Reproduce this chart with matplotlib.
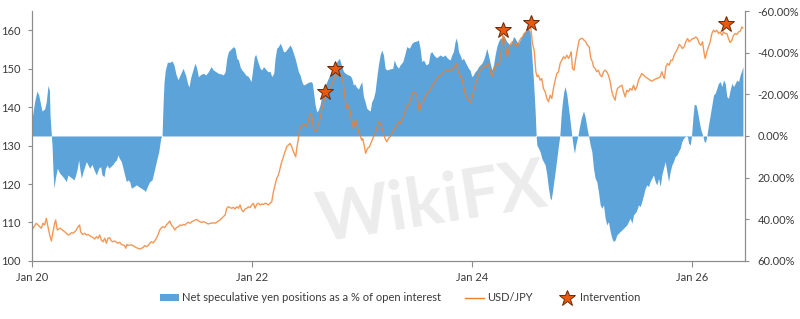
import matplotlib
matplotlib.use("Agg")
import matplotlib.pyplot as plt
import numpy as np
from matplotlib.lines import Line2D
from matplotlib.patches import Patch
from matplotlib.ticker import FuncFormatter

plt.rcParams["font.family"] = ["Lato", "DejaVu Sans"]

# net speculative yen positions, % of open interest (years since Jan 2020)
cot_years = [
    0.000, 0.024, 0.045, 0.061, 0.079, 0.091, 0.115, 0.130, 0.145, 0.158,
    0.164, 0.176, 0.182, 0.191, 0.200, 0.212, 0.230, 0.252, 0.267, 0.291,
    0.312, 0.327, 0.342, 0.364, 0.382, 0.397, 0.412, 0.424, 0.436, 0.448,
    0.464, 0.479, 0.494, 0.509, 0.524, 0.545, 0.564, 0.585, 0.606, 0.624,
    0.636, 0.655, 0.667, 0.685, 0.697, 0.715, 0.736, 0.752, 0.767, 0.782,
    0.794, 0.812, 0.827, 0.842, 0.858, 0.873, 0.888, 0.903, 0.927, 0.948,
    0.970, 0.994, 1.018, 1.030, 1.048, 1.070, 1.091, 1.109, 1.130, 1.152,
    1.170, 1.182, 1.191, 1.200, 1.212, 1.230, 1.252, 1.273, 1.291, 1.309,
    1.327, 1.352, 1.373, 1.397, 1.415, 1.427, 1.442, 1.467, 1.482, 1.497,
    1.512, 1.536, 1.558, 1.579, 1.603, 1.627, 1.648, 1.670, 1.694, 1.718,
    1.739, 1.755, 1.770, 1.785, 1.800, 1.815, 1.830, 1.845, 1.861, 1.876,
    1.891, 1.906, 1.921, 1.942, 1.967, 1.991, 2.003, 2.021, 2.033, 2.052,
    2.073, 2.088, 2.103, 2.118, 2.142, 2.164, 2.179, 2.197, 2.209, 2.224,
    2.239, 2.255, 2.270, 2.285, 2.300, 2.324, 2.345, 2.361, 2.376, 2.391,
    2.406, 2.421, 2.436, 2.452, 2.467, 2.482, 2.497, 2.512, 2.536, 2.548,
    2.558, 2.573, 2.588, 2.603, 2.618, 2.633, 2.655, 2.679, 2.703, 2.724,
    2.745, 2.770, 2.794, 2.806, 2.818, 2.830, 2.848, 2.873, 2.891, 2.906,
    2.921, 2.933, 2.945, 2.967, 2.982, 2.997, 3.012, 3.027, 3.042, 3.058,
    3.073, 3.088, 3.103, 3.118, 3.133, 3.148, 3.164, 3.179, 3.194, 3.209,
    3.224, 3.255, 3.279, 3.291, 3.309, 3.330, 3.345, 3.370, 3.391, 3.406,
    3.430, 3.452, 3.473, 3.497, 3.512, 3.527, 3.542, 3.558, 3.582, 3.603,
    3.618, 3.633, 3.648, 3.664, 3.679, 3.709, 3.733, 3.755, 3.776, 3.800,
    3.815, 3.830, 3.845, 3.855, 3.867, 3.876, 3.891, 3.906, 3.921, 3.936,
    3.952, 3.967, 3.982, 3.997, 4.012, 4.027, 4.042, 4.058, 4.073, 4.088,
    4.103, 4.118, 4.133, 4.148, 4.164, 4.179, 4.194, 4.209, 4.224, 4.239,
    4.255, 4.270, 4.285, 4.300, 4.315, 4.330, 4.345, 4.361, 4.376, 4.391,
    4.406, 4.421, 4.436, 4.452, 4.467, 4.482, 4.497, 4.512, 4.527, 4.542,
    4.558, 4.573, 4.582, 4.588, 4.603, 4.618, 4.633, 4.648, 4.664, 4.679,
    4.694, 4.709, 4.718, 4.730, 4.742, 4.755, 4.770, 4.785, 4.797, 4.809,
    4.821, 4.833, 4.845, 4.861, 4.876, 4.891, 4.906, 4.921, 4.930, 4.942,
    4.952, 4.961, 4.973, 4.991, 5.012, 5.027, 5.042, 5.058, 5.073, 5.088,
    5.103, 5.118, 5.133, 5.148, 5.164, 5.179, 5.194, 5.209, 5.224, 5.239,
    5.255, 5.270, 5.285, 5.300, 5.315, 5.345, 5.376, 5.406, 5.436, 5.452,
    5.467, 5.491, 5.512, 5.527, 5.542, 5.558, 5.573, 5.588, 5.603, 5.618,
    5.633, 5.648, 5.664, 5.679, 5.694, 5.709, 5.724, 5.739, 5.755, 5.770,
    5.785, 5.800, 5.815, 5.830, 5.845, 5.861, 5.876, 5.891, 5.906, 5.921,
    5.936, 5.945, 5.958, 5.967, 5.982, 5.994, 6.006, 6.018, 6.036, 6.048,
    6.064, 6.079, 6.097, 6.109, 6.121, 6.133, 6.148, 6.164, 6.179, 6.194,
    6.209, 6.224, 6.239, 6.255, 6.270, 6.285, 6.300, 6.315, 6.330, 6.345,
    6.361, 6.376, 6.391, 6.406, 6.421, 6.436, 6.452, 6.461,
]
cot_pct = [
    -8, -16.5, -21.6, -19.7, -15, -12, -13, -16.5, -24.2, -22,
    -10, 0, 4.3, 17.1, 25.1, 20.3, 15.5, 17.9, 18.7, 20.3,
    21.9, 18.7, 19.5, 20.3, 21.1, 18.7, 15.5, 11.5, 16.3, 20.3,
    17.1, 14.7, 12.3, 13.9, 15.5, 13.6, 16.3, 18.7, 15.5, 14.7,
    18.7, 19.5, 15.5, 13.9, 15.5, 14.7, 13.6, 12.3, 11.5, 9.1,
    10.7, 12.3, 15.5, 18.7, 21.9, 21.1, 21.9, 25.1, 24.3, 23.5,
    24.3, 25.1, 25.9, 26.7, 24.3, 21.9, 21.1, 17.1, 12.3, 7.5,
    1, 0, -14.9, -26, -31.7, -35.4, -35.4, -36, -34, -29.5,
    -27, -30, -32.5, -29, -25, -23.5, -28, -32.5, -35, -32.5,
    -28.5, -29.6, -30.1, -29.3, -30.9, -33.3, -31.7, -30.9, -30.1, -29.8,
    -29.3, -30.9, -37.3, -40.5, -41.3, -42.1, -42.9, -42.1, -37.3, -36.5,
    -33.3, -31.7, -30.9, -29.3, -28.5, -26.1, -30.9, -38.1, -39.2, -35.7,
    -32.5, -31.7, -33.3, -32.5, -30.9, -30.9, -28.5, -30.1, -37.3, -42.1,
    -42.9, -44.5, -42.9, -40.5, -40.5, -42.1, -43.7, -42.1, -39.7, -37.3,
    -34.1, -30.9, -29.3, -26.1, -24.5, -24.8, -25.3, -25.8, -26.1, -25.3,
    -21.3, -15, -11.5, -12.5, -15, -19, -23, -26, -29, -31,
    -33, -35.7, -37.3, -35, -33.3, -31, -30.1, -29.3, -29, -27.7,
    -24.5, -25, -23.7, -22.5, -24.5, -26.1, -19, -16.5, -13.3, -12.5,
    -12, -16.5, -18.1, -21.3, -28, -34.1, -38.9, -41.3, -38.9, -32.5,
    -31.7, -32.2, -32.5, -36.5, -34.1, -32.5, -34.1, -35.7, -39.7, -42.9,
    -42.1, -44.5, -45.3, -45.6, -46.1, -42.1, -35.7, -36.5, -34.1, -34.9,
    -39.7, -40.5, -39.2, -38.1, -37.6, -38.9, -38.1, -38.9, -37.3, -36.5,
    -38.9, -40.5, -45.3, -47, -44.5, -40.5, -38.9, -36.5, -37.3, -35.7,
    -34, -32.5, -31.5, -28.5, -29.3, -30.9, -31.7, -33.3, -34.1, -34.9,
    -36.5, -38.9, -42.1, -38.9, -34.9, -31.7, -34.1, -38.9, -42.9, -45.3,
    -46.9, -46.9, -48.5, -46.9, -45.3, -44.5, -43.7, -45.3, -47.7, -46.9,
    -45.3, -44.5, -46.1, -47.7, -49.3, -50.1, -51.4, -51.7, -50.1, -38.9,
    -26.1, -11.7, 0, 4.3, 5.9, 7.5, 10.7, 12.3, 13.9, 18.7,
    25.1, 29.9, 30.7, 26.7, 21.9, 17.1, 10.7, 4.3, 0, -10.1,
    -16.5, -21.3, -23.7, -19.7, -13.3, -6.9, 0, 5.9, 8.3, 4.3,
    1.9, 0, -3.7, -8.5, -12, -9.3, -4.5, 0, 4.3, 7.5,
    15.5, 20.3, 21.9, 26.7, 33.1, 34.7, 33.1, 39.5, 42.7, 41.1,
    45.9, 49.1, 50.7, 49.9, 47.5, 45.9, 44.3, 42.7, 39.5, 41.9,
    37.9, 36.3, 33.1, 33.9, 31.5, 28.3, 25.1, 23.5, 24.3, 21.9,
    20.3, 18.7, 21.9, 23.5, 20.3, 24.3, 18.7, 15.5, 12.3, 17.1,
    21.9, 17.1, 13.9, 12.3, 9.9, 9.1, 7.5, 5.9, 2.7, 1.1,
    0.3, 0, 0.5, 3.5, 4.3, 0, -8.5, -15.2, -14.9, -11.7,
    -6.9, -2.9, 0, 2.7, 3, 0, -5.3, -10.1, -14.9, -19.7,
    -20.5, -22.9, -25.3, -26.1, -23.7, -26.9, -25.3, -18.9, -18.1, -22.1,
    -25.3, -23.7, -25.3, -26.9, -26.1, -29.3, -31.7, -33.3,
]

# USD/JPY (years since Jan 2020)
fx_years = [
    0.000, 0.018, 0.039, 0.055, 0.070, 0.085, 0.100, 0.115, 0.130, 0.145,
    0.161, 0.176, 0.191, 0.206, 0.215, 0.230, 0.242, 0.258, 0.276, 0.297,
    0.312, 0.327, 0.342, 0.358, 0.373, 0.388, 0.403, 0.418, 0.433, 0.442,
    0.458, 0.479, 0.494, 0.509, 0.524, 0.539, 0.555, 0.570, 0.585, 0.600,
    0.615, 0.630, 0.645, 0.661, 0.676, 0.691, 0.706, 0.721, 0.736, 0.752,
    0.767, 0.782, 0.797, 0.812, 0.827, 0.842, 0.852, 0.864, 0.873, 0.888,
    0.903, 0.918, 0.933, 0.948, 0.964, 0.979, 0.994, 1.009, 1.024, 1.039,
    1.055, 1.070, 1.085, 1.100, 1.115, 1.130, 1.145, 1.161, 1.176, 1.191,
    1.206, 1.221, 1.236, 1.252, 1.267, 1.282, 1.297, 1.312, 1.330, 1.345,
    1.361, 1.376, 1.391, 1.406, 1.421, 1.436, 1.452, 1.467, 1.482, 1.497,
    1.512, 1.527, 1.542, 1.558, 1.573, 1.588, 1.603, 1.618, 1.633, 1.648,
    1.664, 1.679, 1.694, 1.709, 1.724, 1.739, 1.755, 1.770, 1.785, 1.800,
    1.815, 1.830, 1.845, 1.861, 1.876, 1.891, 1.906, 1.921, 1.936, 1.952,
    1.967, 1.982, 1.997, 2.012, 2.027, 2.042, 2.058, 2.073, 2.088, 2.103,
    2.118, 2.133, 2.148, 2.164, 2.179, 2.194, 2.209, 2.224, 2.239, 2.255,
    2.270, 2.285, 2.300, 2.315, 2.330, 2.345, 2.361, 2.376, 2.391, 2.397,
    2.406, 2.421, 2.436, 2.452, 2.467, 2.482, 2.497, 2.512, 2.527, 2.536,
    2.548, 2.558, 2.573, 2.588, 2.603, 2.618, 2.633, 2.648, 2.664, 2.685,
    2.709, 2.733, 2.755, 2.770, 2.785, 2.800, 2.815, 2.830, 2.845, 2.861,
    2.876, 2.891, 2.906, 2.921, 2.936, 2.945, 2.958, 2.967, 2.982, 2.997,
    3.006, 3.018, 3.033, 3.048, 3.067, 3.079, 3.097, 3.118, 3.133, 3.148,
    3.164, 3.179, 3.194, 3.209, 3.224, 3.239, 3.255, 3.270, 3.285, 3.300,
    3.315, 3.330, 3.345, 3.361, 3.376, 3.391, 3.406, 3.421, 3.436, 3.452,
    3.467, 3.482, 3.497, 3.512, 3.521, 3.533, 3.542, 3.558, 3.573, 3.588,
    3.603, 3.618, 3.633, 3.648, 3.664, 3.679, 3.694, 3.709, 3.724, 3.739,
    3.755, 3.770, 3.785, 3.800, 3.815, 3.830, 3.845, 3.855, 3.867, 3.876,
    3.891, 3.906, 3.921, 3.936, 3.952, 3.967, 3.982, 3.988, 3.997, 4.012,
    4.027, 4.042, 4.058, 4.073, 4.088, 4.103, 4.118, 4.133, 4.148, 4.164,
    4.179, 4.194, 4.209, 4.224, 4.239, 4.255, 4.270, 4.279, 4.294, 4.306,
    4.321, 4.336, 4.352, 4.367, 4.382, 4.397, 4.412, 4.427, 4.442, 4.458,
    4.473, 4.488, 4.503, 4.518, 4.533, 4.548, 4.564, 4.579, 4.591, 4.603,
    4.618, 4.633, 4.648, 4.664, 4.679, 4.694, 4.709, 4.724, 4.739, 4.755,
    4.770, 4.785, 4.800, 4.815, 4.830, 4.845, 4.861, 4.876, 4.891, 4.900,
    4.912, 4.927, 4.942, 4.958, 4.973, 4.988, 5.003, 5.018, 5.033, 5.048,
    5.064, 5.079, 5.094, 5.103, 5.118, 5.133, 5.148, 5.164, 5.179, 5.194,
    5.209, 5.224, 5.239, 5.255, 5.270, 5.285, 5.300, 5.309, 5.321, 5.339,
    5.361, 5.376, 5.391, 5.406, 5.421, 5.436, 5.452, 5.467, 5.482, 5.497,
    5.512, 5.527, 5.542, 5.558, 5.573, 5.588, 5.603, 5.618, 5.633, 5.648,
    5.664, 5.679, 5.694, 5.709, 5.724, 5.739, 5.748, 5.761, 5.776, 5.791,
    5.806, 5.821, 5.836, 5.852, 5.867, 5.882, 5.897, 5.912, 5.927, 5.942,
    5.958, 5.973, 5.988, 6.003, 6.018, 6.033, 6.048, 6.064, 6.079, 6.094,
    6.109, 6.118, 6.133, 6.148, 6.164, 6.179, 6.194, 6.209, 6.224, 6.239,
    6.255, 6.270, 6.285, 6.300, 6.315, 6.330, 6.345, 6.361, 6.376, 6.391,
    6.406, 6.421, 6.436, 6.452, 6.461,
]
fx_level = [
    108.0, 108.9, 109.8, 109.35, 108.9, 108.5, 109.8, 109.35, 111.1, 108.9,
    106.75, 105.2, 107.6, 109.8, 110.65, 108.05, 108.3, 108.5, 108.05, 107.6,
    107.2, 106.75, 106.9, 107.35, 107.2, 107.6, 108.05, 108.9, 109.35, 107.6,
    106.9, 107.2, 106.75, 106.9, 106.6, 106.3, 106.05, 105.7, 106.3, 105.9,
    106.75, 105.45, 105.0, 105.9, 104.6, 105.9, 106.05, 105.2, 105.0, 105.2,
    104.85, 104.6, 104.85, 104.3, 104.15, 104.0, 103.3, 104.3, 104.0, 104.15,
    104.15, 104.0, 103.7, 103.45, 103.3, 103.1, 103.3, 103.45, 104.0, 103.7,
    104.0, 104.6, 105.0, 104.7, 105.2, 105.9, 106.75, 108.05, 108.65, 108.9,
    108.65, 109.35, 109.8, 110.4, 109.35, 108.9, 108.05, 108.65, 108.9, 109.35,
    109.2, 109.5, 109.35, 109.8, 110.05, 109.8, 110.2, 110.4, 110.65, 110.8,
    110.4, 110.2, 110.05, 110.2, 110.05, 109.8, 109.6, 109.8, 109.8, 109.95,
    109.8, 110.05, 110.4, 110.65, 111.1, 111.5, 111.95, 113.7, 114.1, 113.85,
    113.7, 113.95, 113.5, 114.1, 113.7, 114.55, 113.25, 112.8, 113.5, 113.7,
    114.1, 113.85, 114.55, 115.0, 113.7, 114.7, 115.0, 114.55, 114.8, 114.7,
    115.0, 114.9, 114.55, 115.0, 115.4, 118.0, 119.75, 121.5, 122.3, 124.1,
    125.8, 127.1, 128.4, 129.7, 130.1, 130.55, 129.7, 128.4, 127.5, 127.1,
    129.25, 131.85, 134.45, 135.3, 135.15, 135.5, 134.9, 136.6, 137.9, 138.35,
    137.05, 134.45, 133.6, 134.0, 135.5, 137.0, 139.2, 141.0, 142.7, 144.0,
    144.85, 146.5, 147.9, 148.3, 149.2, 148.75, 147.9, 146.15, 142.25, 139.65,
    140.5, 138.8, 136.6, 134.45, 136.2, 136.6, 134.9, 133.6, 132.7, 131.4,
    131.85, 130.1, 128.0, 129.25, 129.7, 130.55, 131.85, 133.15, 134.45, 136.2,
    135.75, 134.9, 133.15, 131.85, 131.0, 131.85, 132.3, 133.15, 134.0, 134.45,
    135.3, 136.2, 135.75, 136.6, 137.5, 138.8, 140.1, 140.5, 141.4, 143.1,
    144.0, 143.8, 143.1, 140.5, 138.8, 140.5, 140.95, 141.4, 142.7, 143.55,
    144.0, 144.4, 145.3, 146.15, 146.6, 147.45, 147.9, 148.3, 148.5, 149.2,
    149.35, 149.6, 149.6, 149.85, 149.6, 150.05, 150.9, 151.35, 150.05, 149.2,
    148.3, 147.45, 145.7, 143.5, 142.5, 141.8, 141.4, 141.1, 142.25, 144.0,
    145.7, 147.0, 148.3, 149.6, 150.05, 150.5, 150.9, 150.5, 151.35, 149.6,
    147.9, 149.2, 150.5, 151.35, 150.9, 152.2, 156.1, 158.7, 157.85, 155.25,
    153.1, 155.25, 156.55, 157.0, 156.1, 156.55, 155.7, 157.0, 157.85, 158.25,
    159.15, 159.55, 160.0, 160.45, 160.85, 156.55, 154.8, 149.2, 147.9, 148.3,
    147.0, 147.45, 144.85, 144.0, 142.25, 141.4, 143.1, 142.25, 144.85, 147.0,
    148.75, 149.2, 151.35, 152.2, 153.1, 152.65, 153.5, 152.65, 153.5, 154.35,
    150.05, 149.6, 152.65, 155.25, 157.4, 157.85, 157.85, 157.4, 157.0, 156.1,
    155.7, 152.65, 151.75, 150.5, 150.05, 149.2, 149.6, 148.3, 147.9, 149.2,
    149.6, 149.2, 148.3, 146.6, 144.0, 142.7, 141.8, 143.55, 144.85, 145.3,
    145.7, 144.0, 142.7, 144.4, 144.0, 144.85, 144.4, 145.7, 144.4, 145.3,
    147.0, 147.9, 148.75, 148.3, 147.9, 147.6, 147.3, 147.0, 146.75, 147.0,
    147.3, 147.45, 147.6, 147.9, 149.2, 147.9, 147.45, 150.5, 151.35, 150.9,
    152.2, 152.2, 153.5, 154.35, 155.25, 156.3, 155.95, 155.25, 155.7, 157.0,
    157.85, 157.0, 157.4, 157.85, 157.85, 158.25, 157.85, 156.55, 156.1, 157.0,
    153.95, 152.65, 154.35, 155.7, 157.0, 159.15, 160.0, 159.55, 160.0, 159.15,
    159.55, 158.7, 159.55, 159.15, 159.15, 157.85, 156.8, 157.4, 158.7, 159.15,
    158.9, 159.55, 159.75, 160.85, 160.6,
]

# FX interventions
intv_years = [2.664, 2.755, 4.279, 4.533, 6.306]
intv_level = [143.9, 150.0, 160.0, 162.0, 161.5]

tick_years = [2020, 2022, 2024, 2026]
tick_labels = ["Jan 20", "Jan 22", "Jan 24", "Jan 26"]

BLUE = "#5ba3d9"
ORANGE = "#f07f2e"
STAR = "#e8590c"
GREY = "#8c8c8c"
TXT = "#3a3a3a"

fig = plt.figure(figsize=(8, 3.19), dpi=100)
ax = fig.add_axes([0.04, 0.182, 0.89125, 0.7835])
ax2 = ax.twinx()

ax2.fill_between(2020 + np.array(cot_years), 0, cot_pct, color=BLUE, lw=0)
ax2.set_ylim(60, -60)
ax2.set_yticks([-60, -40, -20, 0, 20, 40, 60])
ax2.yaxis.set_major_formatter(FuncFormatter(lambda v, p: f"{v:.2f}%"))

ax.set_zorder(ax2.get_zorder() + 1)
ax.patch.set_visible(False)
ax.plot(2020 + np.array(fx_years), fx_level, color=ORANGE, lw=1.0, alpha=0.8)
ax.plot(2020 + np.array(intv_years), intv_level, ls="none", marker="*",
        ms=12, mfc=STAR, mec="#6b2708", mew=0.7)

ax.set_ylim(100, 165)
ax.set_yticks([100, 110, 120, 130, 140, 150, 160])
ax.set_xlim(2020, 2026.48)
ax.set_xticks(tick_years)
ax.set_xticklabels(tick_labels)

for a in (ax, ax2):
    a.spines["top"].set_visible(False)
    for s in ("left", "right", "bottom"):
        a.spines[s].set_color(GREY)
        a.spines[s].set_linewidth(0.8)
    a.tick_params(colors=GREY, labelcolor=TXT, labelsize=8, width=0.8, length=3)
ax.tick_params(axis="y", pad=5)
ax2.tick_params(axis="y", pad=6)
ax.tick_params(axis="x", pad=4, length=4)

# watermark
fig.text(0.54, 0.36, "WikiFX", fontsize=50, fontweight="bold", color="#b5b5b5",
         alpha=0.25, rotation=9, ha="center", va="center", zorder=10)

handles = [
    Patch(facecolor=BLUE, edgecolor="none"),
    Line2D([], [], color=ORANGE, lw=1.0),
    Line2D([], [], ls="none", marker="*", ms=12, mfc=STAR, mec="#6b2708", mew=0.7),
]
labels = ["Net speculative yen positions as a % of open interest", "USD/JPY", "Intervention"]
fig.legend(handles, labels, loc="center", bbox_to_anchor=(0.5, 0.066), ncol=3,
           frameon=False, fontsize=8, handlelength=1.7, handleheight=0.6,
           handletextpad=0.3, columnspacing=2.2, labelcolor=TXT)

fig.savefig("out.png", dpi=100)
